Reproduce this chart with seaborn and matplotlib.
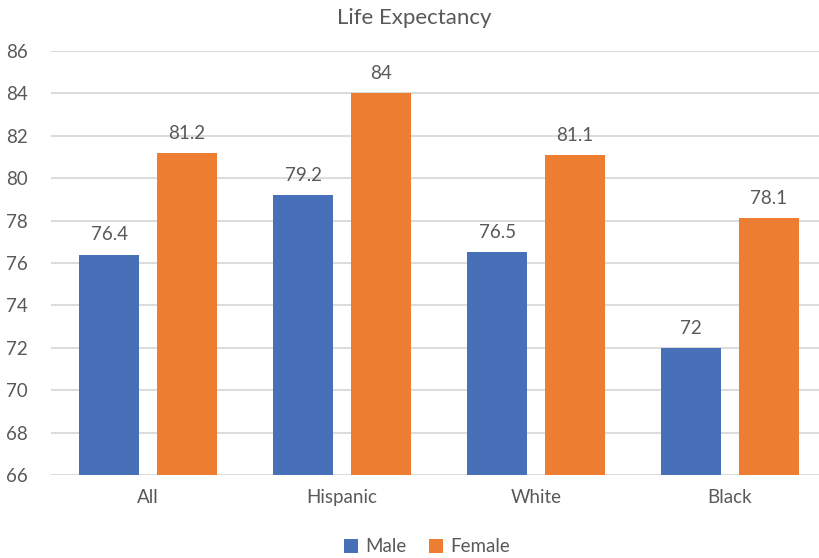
import matplotlib
matplotlib.use("Agg")
import matplotlib.pyplot as plt
from matplotlib.patches import Patch
import seaborn as sns
import pandas as pd

categories = ["All", "Hispanic", "White", "Black"]
male = [76.4, 79.2, 76.5, 72]
female = [81.2, 84, 81.1, 78.1]
series_names = ["Male", "Female"]
y_ticks = [66, 68, 70, 72, 74, 76, 78, 80, 82, 84, 86]

df = pd.DataFrame({
    "group": categories * 2,
    "sex": [series_names[0]] * len(categories) + [series_names[1]] * len(categories),
    "value": male + female,
})

sns.set_theme(style="white")
plt.rcParams["font.family"] = ["Lato", "DejaVu Sans"]
text_color = "#595959"
grid_color = "#D9D9D9"
colors = ["#4870B8", "#ED7D31"]

fig = plt.figure(figsize=(8.2, 5.58), dpi=100)
ax = fig.add_axes([51 / 820, 83 / 558, 776 / 820, 424 / 558])

sns.barplot(data=df, x="group", y="value", hue="sex", order=categories,
            hue_order=series_names, palette=colors, saturation=1,
            width=0.8, gap=0.23, linewidth=0, ax=ax, legend=False, zorder=3)

ax.set_ylim(66, 86)
ax.set_yticks(y_ticks)
ax.set_yticklabels([str(t) for t in y_ticks])
ax.yaxis.grid(True, color=grid_color, linewidth=1.3, zorder=0)
ax.set_axisbelow(True)
for s in ax.spines.values():
    s.set_visible(False)
ax.tick_params(axis="both", length=0, colors=text_color, labelsize=13.5)
ax.tick_params(axis="y", pad=17)
ax.tick_params(axis="x", pad=10)
ax.set_xlabel("")
ax.set_ylabel("")

for cont in ax.containers:
    ax.bar_label(cont, labels=[f"{v:g}" for v in cont.datavalues],
                 padding=8, color=text_color, fontsize=13.5)

fig.text(414 / 820, 1 - 18 / 558, "Life Expectancy", ha="center", va="center",
         color=text_color, fontsize=16)

handles = [Patch(facecolor=c, linewidth=0) for c in colors]
fig.legend(handles, series_names, loc="center", bbox_to_anchor=(427 / 820, 1 - 547 / 558),
           ncol=2, frameon=False, fontsize=13.5, handlelength=0.75, handleheight=0.75,
           handletextpad=0.4, columnspacing=1.2, labelcolor=text_color)

fig.savefig("out.png", dpi=100)
